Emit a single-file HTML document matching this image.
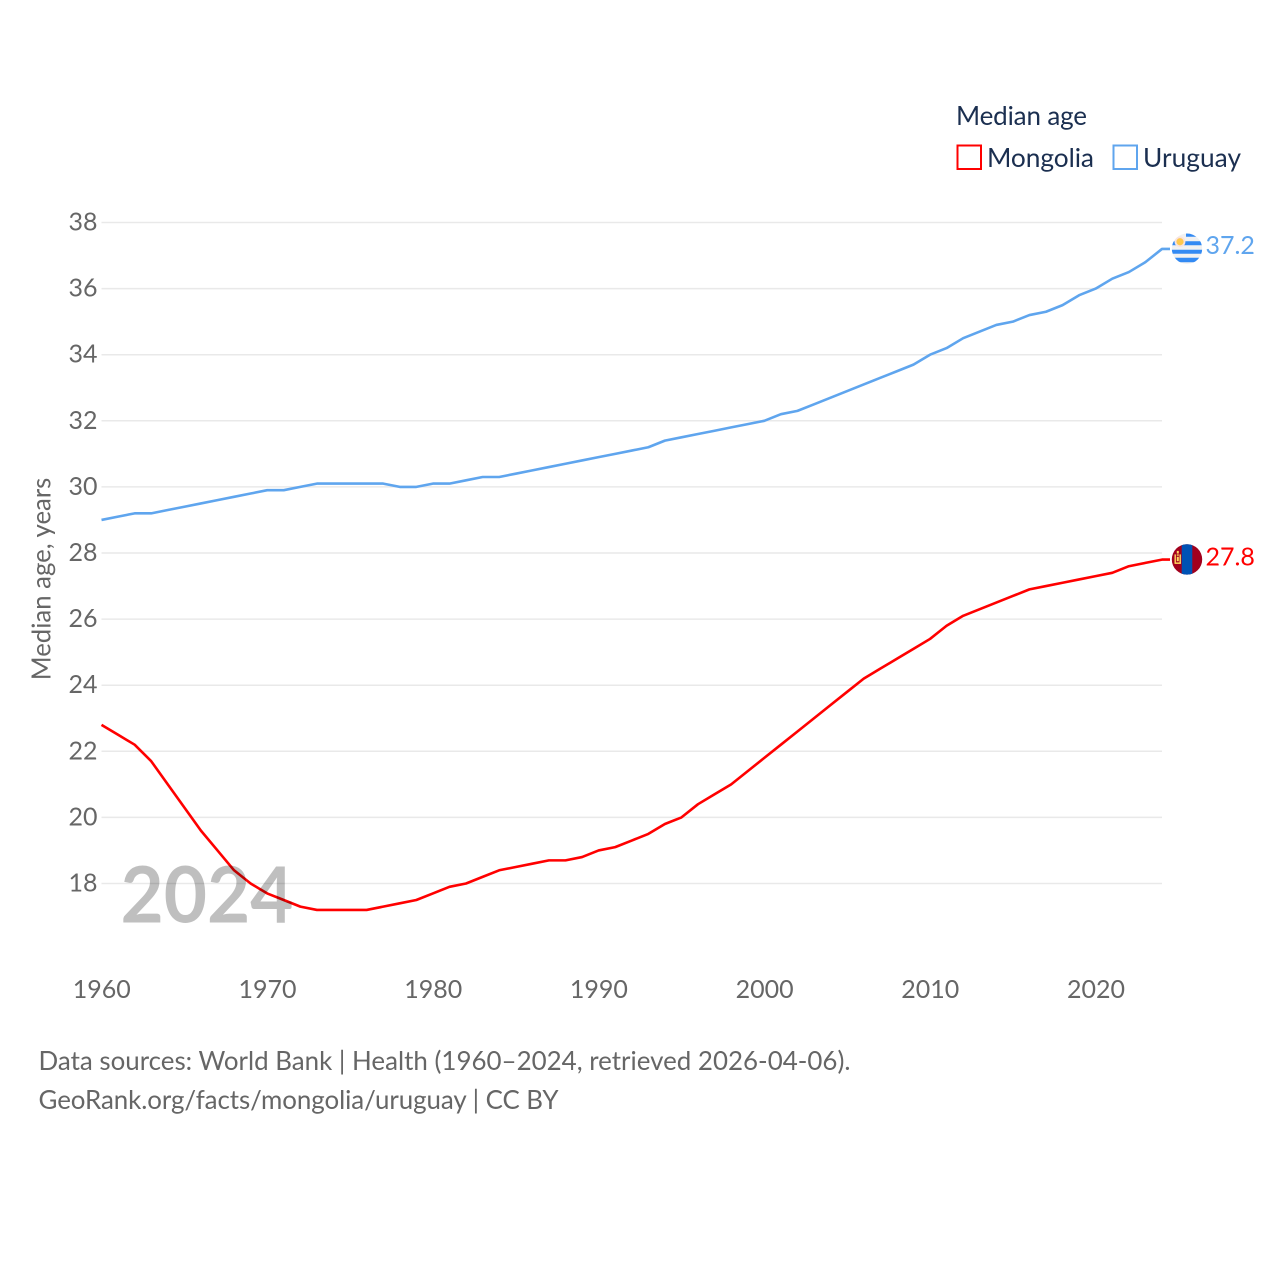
<!DOCTYPE html>
<html lang="en">
<head>
<meta charset="utf-8">
<title>Median age: Mongolia and Uruguay</title>
<style>
html,body{margin:0;padding:0;background:#fff;}
svg{display:block;}
text{font-family:"Lato","Carlito","Liberation Sans",sans-serif;}
</style>
</head>
<body>
<svg id="chart" xmlns="http://www.w3.org/2000/svg" width="1280" height="1280" viewBox="0 0 1280 1280">
  <rect width="1280" height="1280" fill="#fff"/>
  <g id="grid"></g>
  <g id="yticks"></g>
  <g id="xticks"></g>
  <g id="series"></g>
  <text transform="translate(50.5 579) rotate(-90)" text-anchor="middle" font-size="25.75" fill="#666">Median age, years</text>
  <g>
    <text x="956" y="125" font-size="26" fill="#1b2f50" textLength="131" lengthAdjust="spacing">Median age</text>
    <rect x="957.5" y="145.5" width="23.5" height="23.5" fill="none" stroke="#ff0000" stroke-width="2"/>
    <text x="987" y="167" font-size="26.3" fill="#1b2f50" textLength="107" lengthAdjust="spacing">Mongolia</text>
    <rect x="1113.5" y="145.5" width="23.5" height="23.5" fill="none" stroke="#5fa5ee" stroke-width="2"/>
    <text x="1143" y="167" font-size="26.3" fill="#1b2f50" textLength="98" lengthAdjust="spacing">Uruguay</text>
  </g>
  <g id="ends"></g>
  <text id="yearLabel" x="120.5" y="922.5" font-size="78" font-weight="bold" fill="#000" fill-opacity="0.25" textLength="173" lengthAdjust="spacingAndGlyphs">2024</text>
  <text x="38.5" y="1070" font-size="25.9" fill="#666" textLength="812" lengthAdjust="spacing">Data sources: World Bank | Health (1960–2024, retrieved 2026-04-06).</text>
  <text x="38.5" y="1109" font-size="25.9" fill="#666" textLength="520" lengthAdjust="spacing">GeoRank.org/facts/mongolia/uruguay | CC BY</text>
</svg>
<script>
var startYear = 1960;
var yTickValues = [18, 20, 22, 24, 26, 28, 30, 32, 34, 36, 38];
var xTickValues = [1960, 1970, 1980, 1990, 2000, 2010, 2020];
var mongoliaValues = [22.8,22.5,22.2,21.7,21.0,20.3,19.6,19.0,18.4,18.0,17.7,17.5,17.3,17.2,17.2,17.2,17.2,17.3,17.4,17.5,17.7,17.9,18.0,18.2,18.4,18.5,18.6,18.7,18.7,18.8,19.0,19.1,19.3,19.5,19.8,20.0,20.4,20.7,21.0,21.4,21.8,22.2,22.6,23.0,23.4,23.8,24.2,24.5,24.8,25.1,25.4,25.8,26.1,26.3,26.5,26.7,26.9,27.0,27.1,27.2,27.3,27.4,27.6,27.7,27.8];
var uruguayValues = [29.0,29.1,29.2,29.2,29.3,29.4,29.5,29.6,29.7,29.8,29.9,29.9,30.0,30.1,30.1,30.1,30.1,30.1,30.0,30.0,30.1,30.1,30.2,30.3,30.3,30.4,30.5,30.6,30.7,30.8,30.9,31.0,31.1,31.2,31.4,31.5,31.6,31.7,31.8,31.9,32.0,32.2,32.3,32.5,32.7,32.9,33.1,33.3,33.5,33.7,34.0,34.2,34.5,34.7,34.9,35.0,35.2,35.3,35.5,35.8,36.0,36.3,36.5,36.8,37.2];

var NS = 'http://www.w3.org/2000/svg';
function xScale(year){ return 101.5 + (year - 1960) * (1162 - 101.5) / 64; }
function yScale(v){ return 222.5 + (38 - v) * (883.5 - 222.5) / 20; }
function make(tag, attrs, parent){
  var el = document.createElementNS(NS, tag);
  for (var k in attrs) el.setAttribute(k, attrs[k]);
  parent.appendChild(el);
  return el;
}
var grid = document.getElementById('grid');
var yticks = document.getElementById('yticks');
var xticks = document.getElementById('xticks');
var series = document.getElementById('series');
var ends = document.getElementById('ends');

yTickValues.forEach(function(v){
  var line = make('line', {x1:101.5, x2:1162, y1:yScale(v), y2:yScale(v), stroke:'#e9e9e9', 'stroke-width':1.5}, grid);
  
  
  var t = make('text', {x:97.5, y:yScale(v) + 8, 'text-anchor':'end', 'font-size':25, fill:'#666'}, yticks);
  t.textContent = v;
  
  
});
xTickValues.forEach(function(y){
  var t = make('text', {x:xScale(y) + 0.3, y:998, 'text-anchor':'middle', 'font-size':25, fill:'#666'}, xticks);
  t.textContent = y;
  
  
});

function drawLine(values, color, name){
  var pts = values.map(function(v, i){ return xScale(startYear + i).toFixed(2) + ',' + yScale(v).toFixed(2); });
  var last = values[values.length - 1];
  pts.push((xScale(startYear + values.length - 1) + 8).toFixed(2) + ',' + yScale(last).toFixed(2));
  var pl = make('polyline', {points:pts.join(' '), fill:'none', stroke:color, 'stroke-width':2.6, 'stroke-linejoin':'round'}, series);
  
  
}
drawLine(mongoliaValues, '#ff0000', 'line-mongolia');
drawLine(uruguayValues, '#5fa5ee', 'line-uruguay');

function valueLabel(values, color, name, dy){
  var last = values[values.length - 1];
  var t = make('text', {x:1205.5, y:yScale(last) + dy, 'font-size':25, fill:color}, ends);
  t.textContent = last.toFixed(1);
  
  
}

// Round flags, positioned from the last value of each series
var defs = make('defs', {}, ends);
function flagGroup(values, id, name){
  var cy = yScale(values[values.length - 1]) - 0.2;
  var clip = make('clipPath', {id:id}, defs);
  make('circle', {cx:0, cy:0, r:15.2}, clip);
  var pos = make('g', {transform:'translate(1187 ' + cy + ')'}, ends);
  var g = make('g', {'clip-path':'url(#' + id + ')'}, pos);
  
  
  return g;
}
var uy = flagGroup(uruguayValues, 'clipUy', 'flag-uruguay');
make('rect', {x:-16, y:-16, width:32, height:32, fill:'#f1f1f1'}, uy);
make('rect', {x:-1, y:-15.5, width:17, height:3.5, fill:'#338af3'}, uy);
make('rect', {x:-16, y:-7.5, width:32, height:4, fill:'#338af3'}, uy);
make('rect', {x:-16, y:1, width:32, height:4, fill:'#338af3'}, uy);
make('rect', {x:-16, y:9, width:32, height:4.5, fill:'#338af3'}, uy);
make('circle', {cx:-7, cy:-7, r:5.4, fill:'#f8e3df'}, uy);
make('circle', {cx:-7, cy:-7, r:3.6, fill:'#ffc94d'}, uy);

var mn = flagGroup(mongoliaValues, 'clipMn', 'flag-mongolia');
make('rect', {x:-16, y:-16, width:32, height:32, fill:'#a2001d'}, mn);
make('rect', {x:-5.3, y:-16, width:10.6, height:32, fill:'#0052b4'}, mn);
make('rect', {x:-12.5, y:-5, width:1.4, height:9, fill:'#ffd75e'}, mn);
make('rect', {x:-7.5, y:-5, width:1.4, height:9, fill:'#ffd75e'}, mn);
make('rect', {x:-10.2, y:-8.5, width:2, height:2.6, fill:'#ffd75e'}, mn);
make('rect', {x:-10.2, y:-5, width:2, height:1.3, fill:'#ffd75e'}, mn);
make('rect', {x:-10.2, y:-2.6, width:2, height:4.4, fill:'#ffd75e'}, mn);
make('rect', {x:-12.5, y:3, width:6.4, height:1.5, fill:'#ffd75e'}, mn);

valueLabel(uruguayValues, '#5fa5ee', 'value-label-uruguay', 5);
valueLabel(mongoliaValues, '#ff0000', 'value-label-mongolia', 6);
</script>
</body>
</html>
